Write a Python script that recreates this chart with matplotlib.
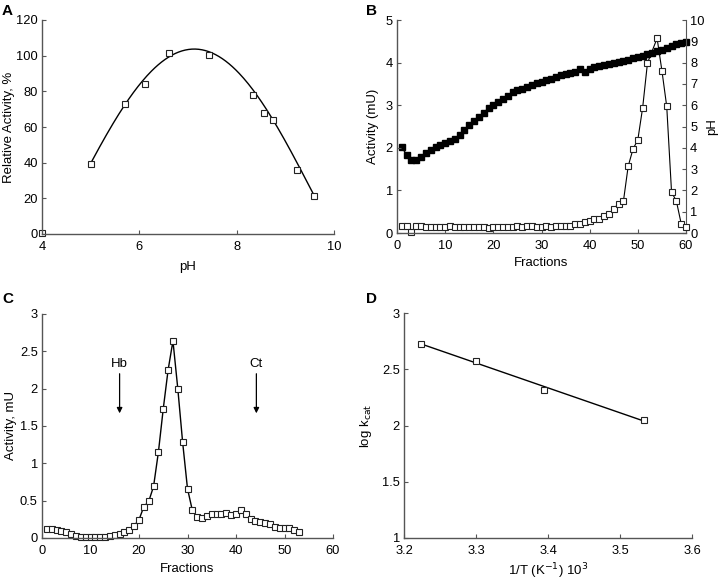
import numpy as np
import matplotlib
matplotlib.use("Agg")
import matplotlib.pyplot as plt

plt.rcParams['font.family'] = ['Liberation Sans', 'DejaVu Sans']

ph_a = [4.0, 5.0, 5.71, 6.12, 6.6, 7.43, 8.34, 8.57, 8.74, 9.24, 9.59]
rel_act = [0.8, 39, 73, 84, 101.6, 100.3, 77.7, 67.9, 63.9, 35.8, 21.4]
fit_ph = [5.0, 5.5, 6.0, 6.5, 7.0, 7.5, 8.0, 8.5, 9.0, 9.6]
fit_act = [39.6, 64, 83, 97.5, 104.2, 101, 91.5, 74, 52.7, 21]

# Panel B: isoelectric focusing
frac_b = list(range(1, 53)) + list(range(54, 61))
act_b = [0.17, 0.16, 0.02, 0.16, 0.17, 0.14, 0.14, 0.13, 0.13, 0.14,
         0.17, 0.15, 0.15, 0.13, 0.14, 0.14, 0.14, 0.13, 0.12, 0.13,
         0.14, 0.14, 0.15, 0.15, 0.16, 0.14, 0.17, 0.17, 0.15, 0.15,
         0.16, 0.15, 0.17, 0.17, 0.17, 0.16, 0.20, 0.21, 0.26, 0.29,
         0.32, 0.34, 0.40, 0.44, 0.57, 0.69, 0.74, 1.57, 1.97, 2.19,
         2.94, 3.99, 4.57, 3.81, 2.97, 0.96, 0.75, 0.22, 0.15]
frac_ph = list(range(1, 61))
ph_b = [4.05, 3.65, 3.45, 3.45, 3.55, 3.75, 3.9, 4.05, 4.15, 4.22,
        4.3, 4.4, 4.6, 4.85, 5.05, 5.25, 5.45, 5.65, 5.85, 6.0,
        6.15, 6.3, 6.45, 6.6, 6.7, 6.78, 6.85, 6.93, 7.02, 7.1,
        7.18, 7.25, 7.32, 7.4, 7.47, 7.53, 7.58, 7.68, 7.56, 7.7,
        7.77, 7.83, 7.88, 7.92, 7.97, 8.03, 8.08, 8.13, 8.2, 8.27,
        8.33, 8.4, 8.47, 8.54, 8.6, 8.67, 8.8, 8.88, 8.92, 8.98]

# Panel C: gel filtration
frac_c = list(range(1, 54))
act_c = [0.125, 0.12, 0.11, 0.095, 0.085, 0.055, 0.03, 0.02, 0.01, 0.01,
         0.01, 0.02, 0.02, 0.03, 0.045, 0.06, 0.075, 0.11, 0.165, 0.245,
         0.42, 0.49, 0.69, 1.15, 1.73, 2.25, 2.64, 2.0, 1.28, 0.66,
         0.37, 0.28, 0.27, 0.29, 0.32, 0.32, 0.32, 0.33, 0.31, 0.32,
         0.37, 0.325, 0.26, 0.23, 0.21, 0.2, 0.19, 0.15, 0.14, 0.14,
         0.13, 0.11, 0.08]
markers_c = ['Hb', 'Ct']
marker_pos = [16, 44.2]

# Panel D: Arrhenius
inv_t = [3.224, 3.2995, 3.395, 3.533]
log_kcat = [2.727, 2.57, 2.318, 2.052]

fig = plt.figure(figsize=(7.2, 5.82), dpi=100)
W, H = 720, 582


def add_ax(l, t, r, b):
    return fig.add_axes([l / W, 1 - b / H, (r - l) / W, (b - t) / H])


def style(ax):
    for s in ['top', 'right']:
        ax.spines[s].set_visible(False)
    for s in ['left', 'bottom']:
        ax.spines[s].set_color('#555555')
        ax.spines[s].set_linewidth(1.0)
    ax.tick_params(direction='in', length=3, width=0.8, color='#555555',
                   labelsize=9.3)
    ax.tick_params(axis='x', pad=5)
    ax.tick_params(axis='y', pad=3)


sq = dict(marker='s', mfc='white', mec='#222222', mew=0.8)
LS = 9.5

# A
axA = add_ax(42, 20, 334, 234)
style(axA)
coef = np.polyfit(fit_ph, fit_act, 4)
xf = np.linspace(fit_ph[0], fit_ph[-1], 200)
axA.plot(xf, np.polyval(coef, xf), color='black', lw=1.0)
axA.plot(ph_a, rel_act, ls='none', ms=4.5, clip_on=False, **sq)
axA.set_xlim(4, 10)
axA.set_ylim(0, 120)
axA.set_xticks([4, 6, 8, 10])
axA.set_yticks(range(0, 121, 20))
axA.set_xlabel('pH', fontsize=LS, labelpad=6)
axA.set_ylabel('Relative Activity, %', fontsize=LS, labelpad=1)

# B
axB = add_ax(397, 20, 686, 233)
style(axB)
axB2 = axB.twinx()
for s in ['top', 'left', 'bottom']:
    axB2.spines[s].set_visible(False)
axB2.spines['right'].set_color('#555555')
axB2.tick_params(direction='in', length=3, width=0.8, color='#555555',
                 labelsize=9.3, pad=3)
axB2.plot(frac_ph, ph_b, color='black', lw=1.0, marker='s', ms=4.3,
          mfc='black', mec='black', clip_on=False)
axB2.set_ylim(0, 10)
axB2.set_yticks(range(0, 11))
axB2.set_ylabel('pH', fontsize=LS, labelpad=1)
axB.set_zorder(axB2.get_zorder() + 1)
axB.patch.set_visible(False)
axB.plot(frac_b, act_b, color='black', lw=0.8, ms=3.8, clip_on=False, **sq)
axB.set_xlim(0, 60)
axB.set_ylim(0, 5)
axB.set_xticks(range(0, 61, 10))
axB.set_yticks(range(0, 6))
axB.set_xlabel('Fractions', fontsize=LS, labelpad=4)
axB.set_ylabel('Activity (mU)', fontsize=LS, labelpad=5)

# C
axC = add_ax(42, 314, 333, 538)
style(axC)
axC.plot(frac_c, act_c, color='black', lw=1.0, ms=3.8, clip_on=False, **sq)
axC.set_xlim(0, 60)
axC.set_ylim(0, 3)
axC.set_xticks(range(0, 61, 10))
axC.set_yticks([0, 0.5, 1, 1.5, 2, 2.5, 3])
axC.set_yticklabels(['0', '0.5', '1', '1.5', '2', '2.5', '3'])
axC.set_xlabel('Fractions', fontsize=LS, labelpad=4)
axC.set_ylabel('Activity, mU', fontsize=LS, labelpad=2)
for name, xp in zip(markers_c, marker_pos):
    axC.text(xp, 2.33, name, ha='center', va='center', fontsize=9.5)
    axC.annotate('', xy=(xp, 1.67), xytext=(xp, 2.2),
                 arrowprops=dict(arrowstyle='-|>', color='black', lw=0.9,
                                 mutation_scale=8, shrinkA=0, shrinkB=0))

# D
axD = add_ax(404, 313, 692, 538)
style(axD)
lc = np.polyfit(inv_t, log_kcat, 1)
xl = np.array([inv_t[0], inv_t[-1]])
axD.plot(xl, np.polyval(lc, xl), color='black', lw=1.0)
axD.plot(inv_t, log_kcat, ls='none', ms=4.3, **sq)
axD.set_xlim(3.2, 3.6)
axD.set_ylim(1, 3)
axD.set_xticks([3.2, 3.3, 3.4, 3.5, 3.6])
axD.set_xticklabels(['3.2', '3.3', '3.4', '3.5', '3.6'])
axD.set_yticks([1, 1.5, 2, 2.5, 3])
axD.set_yticklabels(['1', '1.5', '2', '2.5', '3'])
axD.set_xlabel(r'1/T (K$^{-1}$) 10$^{3}$', fontsize=LS, labelpad=3)
axD.set_ylabel(r'log k$_{\mathrm{cat}}$', fontsize=LS, labelpad=6)

for lab, x, y in [('A', 2, 4), ('B', 366, 4), ('C', 2, 292), ('D', 366, 292)]:
    fig.text(x / W, 1 - y / H, lab, fontsize=11, fontweight='bold',
             ha='left', va='top')

fig.savefig('out.png', dpi=100)
